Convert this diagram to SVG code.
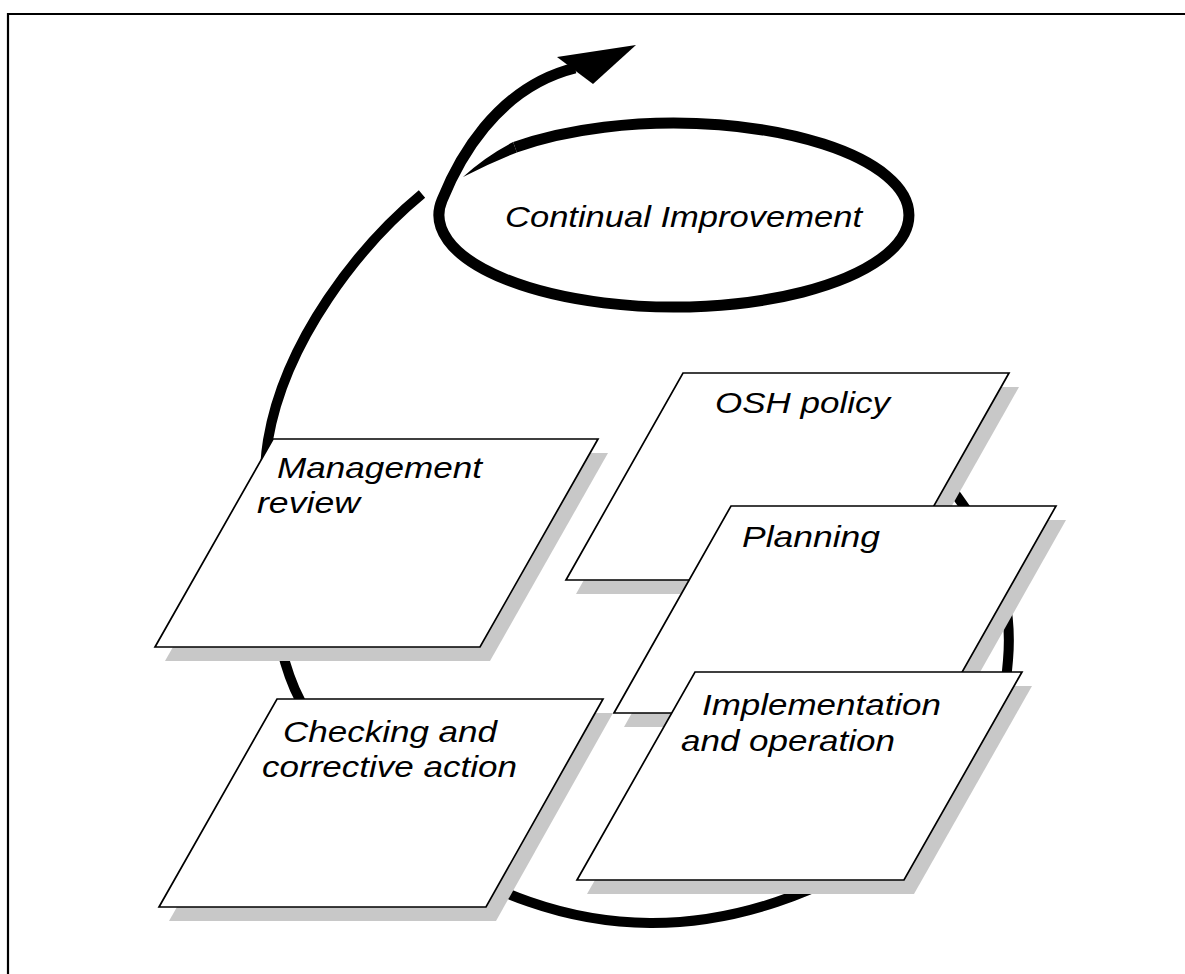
<svg xmlns="http://www.w3.org/2000/svg" width="1185" height="974" viewBox="0 0 1185 974">
<style>
.frame{stroke:#000;stroke-width:2.2;fill:none}
.loop{stroke:#000;stroke-width:10;fill:none;stroke-linecap:butt}
.spiral{stroke:#000;stroke-width:11;fill:none}
.shadow{fill:#c8c8c8;stroke:none}
.box{fill:#fff;stroke:#000;stroke-width:1.7;stroke-linejoin:miter}
.lbl{font-family:"Liberation Sans",Arial,sans-serif;font-style:italic;font-size:29px;fill:#000}
</style>
<rect width="1185" height="974" fill="#fff"/>
<g id="frame">
<line class="frame" x1="8" y1="14" x2="1185" y2="14"/>
<line class="frame" x1="8" y1="13" x2="8" y2="974"/>
</g>
<g id="connectors">
<path id="cycle" class="loop" d="M422,194 C360,245 285,340 268,440 C258,500 268,640 300,700 C340,800 480,922 650,923 C820,924 1000,800 1008,660 C1014,590 990,522 912,445"/>
<g id="improvement-spiral">
<path class="spiral" d="M515,147.3 A235,92 0 1 1 442.1,200 C457,163 495,88 575,68"/>
<path d="M463,177 Q486,156 513.1,142.1 L516.9,152.5 Q490,163 463,177 Z" fill="#000"/>
<polygon points="557,57 636,45 593,84" fill="#000"/>
</g>
</g>
<g id="continual-improvement">
<text class="lbl" x="505" y="227" textLength="357" lengthAdjust="spacingAndGlyphs">Continual Improvement</text>
</g>
<g id="management-review">
<polygon class="shadow" points="283,453 608,453 490,661 165,661"/>
<polygon class="box" points="273,439 598,439 480,647 155,647"/>
<text class="lbl" x="277" y="478" textLength="205" lengthAdjust="spacingAndGlyphs">Management</text>
<text class="lbl" x="257" y="513" textLength="103" lengthAdjust="spacingAndGlyphs">review</text>
</g>
<g id="osh-policy">
<polygon class="shadow" points="693,387 1019,387 902,594 576,594"/>
<polygon class="box" points="683,373 1009,373 892,580 566,580"/>
<text class="lbl" x="715" y="413" textLength="175" lengthAdjust="spacingAndGlyphs">OSH policy</text>
</g>
<g id="planning">
<polygon class="shadow" points="741,520 1066,520 949,727 624,727"/>
<polygon class="box" points="731,506 1056,506 939,713 614,713"/>
<text class="lbl" x="742" y="547" textLength="138" lengthAdjust="spacingAndGlyphs">Planning</text>
</g>
<g id="implementation-operation">
<polygon class="shadow" points="705,686 1032,686 914,894 587,894"/>
<polygon class="box" points="695,672 1022,672 904,880 577,880"/>
<text class="lbl" x="702" y="715" textLength="239" lengthAdjust="spacingAndGlyphs">Implementation</text>
<text class="lbl" x="681" y="751" textLength="214" lengthAdjust="spacingAndGlyphs">and operation</text>
</g>
<g id="checking-corrective-action">
<polygon class="shadow" points="287,713 613,713 496,921 169,921"/>
<polygon class="box" points="277,699 603,699 486,907 159,907"/>
<text class="lbl" x="283" y="742" textLength="214" lengthAdjust="spacingAndGlyphs">Checking and</text>
<text class="lbl" x="262" y="777" textLength="255" lengthAdjust="spacingAndGlyphs">corrective action</text>
</g>
</svg>
